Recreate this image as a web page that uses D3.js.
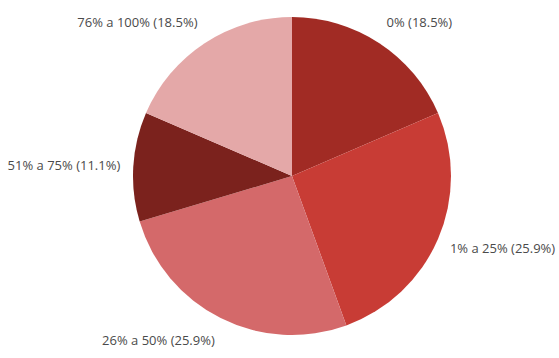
<!DOCTYPE html>
<html>
<head>
<meta charset="utf-8">
<script src="https://cdn.jsdelivr.net/npm/d3@7"></script>
<style>
  html, body { margin: 0; padding: 0; background: #ffffff; }
  svg { display: block; }
</style>
</head>
<body>
<svg id="chart" width="559" height="358"></svg>
<script>
// Share of respondents by range
const categories = ["0%", "1% a 25%", "26% a 50%", "51% a 75%", "76% a 100%"];
const values = [18.5, 25.9, 25.9, 11.1, 18.5];
const colors = ["#a12b24", "#c83c35", "#d4696a", "#7b221d", "#e4a8a8"];

const width = 559, height = 358;
const cx = 292, cy = 176, radius = 159;
// labels sit on a slightly flattened ring around the pie
const labelRx = 172, labelRy = 184;

const svg = d3.select("#chart");
const g = svg.append("g").attr("transform", `translate(${cx},${cy})`);

const data = categories.map((c, i) => ({ category: c, value: values[i], color: colors[i] }));

const pie = d3.pie().value(d => d.value).sort(null);
const arcs = pie(data);

const arc = d3.arc().innerRadius(0).outerRadius(radius);

g.selectAll("path.slice")
  .data(arcs)
  .join("path")
  .attr("class", "slice")
  .attr("d", arc)
  .attr("fill", d => d.data.color);

const midAngle = d => (d.startAngle + d.endAngle) / 2;

g.selectAll("text.label")
  .data(arcs)
  .join("text")
  .attr("class", "label")
  .attr("x", d => labelRx * Math.sin(midAngle(d)))
  .attr("y", d => -labelRy * Math.cos(midAngle(d)))
  .attr("text-anchor", d => midAngle(d) < Math.PI ? "start" : "end")
  .attr("dy", "0.35em")
  .attr("font-family", "'Open Sans', 'Noto Sans', sans-serif")
  .attr("font-size", 13)
  .attr("fill", "#4a4a4a")
  .text(d => `${d.data.category} (${d.data.value.toFixed(1)}%)`);
</script>
</body>
</html>
